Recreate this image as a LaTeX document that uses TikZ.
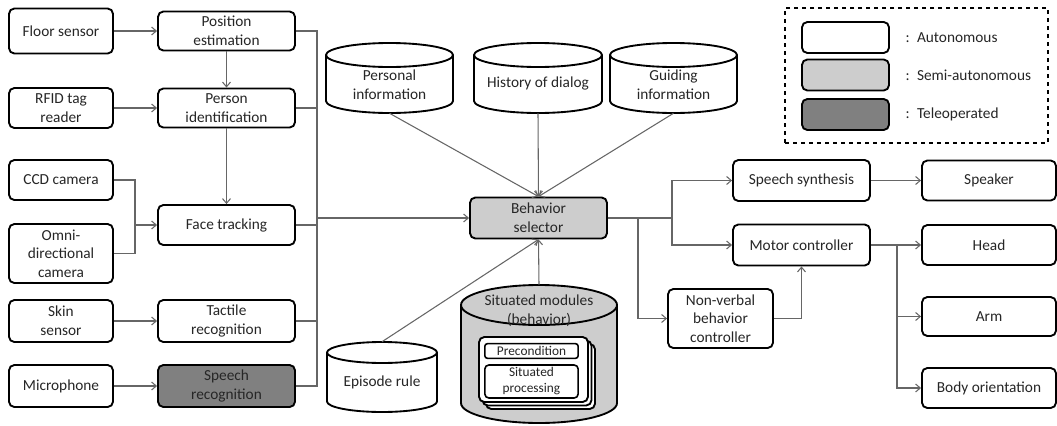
\documentclass[tikz,border=0pt]{standalone}
\usepackage{fontspec}
\setmainfont{Carlito}
\usepackage{xcolor}
\definecolor{semigray}{RGB}{205, 205, 205}
\definecolor{telegray}{RGB}{128, 128, 128}
\usetikzlibrary{arrows.meta}

% cylinder: name, cx, top, bottom, half width, ry, fill
\newcommand{\database}[7]{%
    \draw[dbline, fill=#7] (#2-#5, #3+#6) -- (#2-#5, #4-#6)
        arc[start angle=180, end angle=360, x radius=#5*0.75pt, y radius=#6*0.75pt]
        -- (#2+#5, #3+#6)
        arc[start angle=0, end angle=180, x radius=#5*0.75pt, y radius=#6*0.75pt] -- cycle;
    \draw[dbline] (#2-#5, #3+#6)
        arc[start angle=180, end angle=360, x radius=#5*0.75pt, y radius=#6*0.75pt];
    \node[inner sep=0pt, minimum width=#5*1.5pt, minimum height=(#4-#3)*0.75pt] (#1) at (#2, {(#3+#4)/2}) {};
}

\tikzset{
    box/.style={draw, line width=1.4pt, rounded corners=4pt, fill=white, align=center,
        inner sep=1pt, text=black!85, font=\fontsize{11.5}{14}\selectfont},
    semi/.style={box, fill=semigray},
    tele/.style={box, fill=telegray},
    sensor/.style={box, minimum width=78pt, minimum height=30pt},
    proc/.style={box, minimum width=102.75pt, minimum height=30pt},
    actu/.style={box, minimum width=100.5pt, minimum height=30pt},
    dbline/.style={line width=1.4pt},
    dbtext/.style={align=center, text=black!85, font=\fontsize{11.5}{14}\selectfont},
    conn/.style={draw=black!60, line width=0.8pt},
    arr/.style={conn, -{Straight Barb[length=3.5pt, width=6pt]}},
}

\begin{document}
\begin{tikzpicture}[x=0.75pt, y=-0.75pt]
    \useasboundingbox (0,0) rectangle (1057,425);

    % Sensors
    \node[sensor, minimum height=33.75pt] (floor) at (61, 31) {Floor sensor};
    \node[sensor] (rfid) at (61, 108) {RFID tag\\reader};
    \node[sensor] (ccd) at (61, 180) {CCD camera};
    \node[sensor, minimum height=44.25pt] (omni) at (61, 253.5) {Omni-\\directional\\camera};
    \node[sensor, minimum height=31.5pt] (skin) at (61, 321) {Skin\\sensor};
    \node[sensor, minimum height=31.5pt] (mic) at (61, 386) {Microphone};

    % Recognition
    \node[proc, minimum height=29.25pt] (posest) at (226.5, 31) {Position\\estimation};
    \node[proc, minimum height=29.25pt] (person) at (226.5, 108) {Person\\identification};
    \node[proc] (face) at (226.5, 225) {Face tracking};
    \node[proc, minimum height=31.5pt] (tactile) at (226.5, 321) {Tactile\\recognition};
    \node[proc, tele, minimum height=31.5pt] (speechrec) at (226.5, 386) {Speech\\recognition};

    % Behavior selector
    \node[proc, semi, minimum height=30.75pt] (bsel) at (538.5, 218) {Behavior\\selector};

    % Databases
    \database{pinfo}{389.5}{43}{113}{63.5}{12}{white}
    \node[dbtext] at (389.5, 85) {Personal\\information};
    \database{history}{538}{43}{113}{64}{12}{white}
    \node[dbtext] at (538, 83) {History of dialog};
    \database{guide}{673.5}{43}{113}{63.5}{12}{white}
    \node[dbtext] at (673.5, 85) {Guiding\\information};
    \database{episode}{382}{342}{412}{55}{10.5}{white}
    \node[dbtext] at (382, 382) {Episode rule};

    % Situated modules
    \database{sitmod}{539}{285}{423}{78}{20}{semigray}
    \node[dbtext] at (539, 311) {Situated modules\\(behavior)};
    \foreach \o in {7,3.5,0} {
        \draw[line width=1.4pt, rounded corners=4pt, fill=white] (479+\o, 337+\o) rectangle (588+\o, 402+\o);
    }
    \node[box, line width=1.2pt, rounded corners=2pt, minimum width=70pt, minimum height=11pt, inner sep=0.5pt,
        font=\fontsize{10}{12}\selectfont] (precond) at (531.5, 351) {Precondition};
    \node[box, line width=1.2pt, rounded corners=3pt, minimum width=70pt, minimum height=24.75pt, inner sep=0.5pt,
        font=\fontsize{10}{12}\selectfont] (sitproc) at (531.5, 381.5) {Situated\\processing};

    % Outputs
    \node[proc, minimum height=30.75pt] (synth) at (801.5, 180.5) {Speech synthesis};
    \node[proc, minimum height=30.75pt] (motor) at (801.5, 245) {Motor controller};
    \node[box, minimum width=78.75pt, minimum height=44.25pt] (nonverbal) at (720.5, 318.5) {Non-verbal\\behavior\\controller};
    \node[actu] (speaker) at (989, 180.5) {Speaker};
    \node[actu] (head) at (989, 245) {Head};
    \node[actu, minimum height=29.25pt] (arm) at (989, 316.5) {Arm};
    \node[actu] (body) at (989, 388) {Body orientation};

    % Legend
    \node[draw, dashed, line width=1.4pt, minimum width=197.25pt, minimum height=101.25pt] (legend) at (916.5, 75.5) {};
    \node[box, minimum width=65.25pt, minimum height=23.25pt] (lauto) at (845.5, 37.5) {};
    \node[box, semi, minimum width=65.25pt, minimum height=23.25pt] (lsemi) at (845.5, 75) {};
    \node[box, tele, minimum width=65.25pt, minimum height=23.25pt] (ltele) at (845.5, 114.5) {};
    \node[dbtext, anchor=west] at (901, 37.5) {:\, Autonomous};
    \node[dbtext, anchor=west] at (901, 75) {:\, Semi-autonomous};
    \node[dbtext, anchor=west] at (901, 114.5) {:\, Teleoperated};

    % Connections (sensors)
    \draw[arr] (floor.east) -- (posest.west);
    \draw[arr] (rfid.east) -- (person.west);
    \draw[arr] (posest.south) -- (person.north);
    \draw[arr] (person.south) -- (face.north);
    \coordinate (camj) at (135, 225);
    \draw[conn] (ccd.east) -| (camj) |- (omni.east);
    \draw[arr] (camj) -- (face.west);
    \draw[arr] (skin.east) -- (tactile.west);
    \draw[arr] (mic.east) -- (speechrec.west);

    % Bus to behavior selector
    \coordinate (bus) at (317, 218);
    \draw[conn] (posest.east) -| (speechrec.east -| bus) -- (speechrec.east);
    \foreach \n in {person, face, tactile} {
        \draw[conn] (\n.east) -- (\n.east -| bus);
    }
    \draw[arr] (bus) -- (bsel.west);

    % Databases to behavior selector
    \foreach \n in {pinfo, history, guide} {
        \draw[arr] (\n.south) -- (bsel.north);
    }
    \draw[arr] (episode.north) -- (bsel.south);
    \draw[arr] (sitmod.north) -- (bsel.south);

    % Behavior selector to outputs
    \coordinate (outj) at (672, 218);
    \coordinate (nvj) at (638, 218);
    \draw[conn] (bsel.east) -- (outj);
    \draw[arr] (outj) |- (synth.west);
    \draw[arr] (outj) |- (motor.west);
    \draw[arr] (nvj) |- (nonverbal.west);
    \draw[arr] (nonverbal.east) -| (motor.south);
    \draw[arr] (synth.east) -- (speaker.west);
    \coordinate (motj) at (897, 245);
    \draw[conn] (motor.east) -- (motj);
    \foreach \n in {head, arm, body} {
        \draw[arr] (motj) |- (\n.west);
    }
\end{tikzpicture}
\end{document}
